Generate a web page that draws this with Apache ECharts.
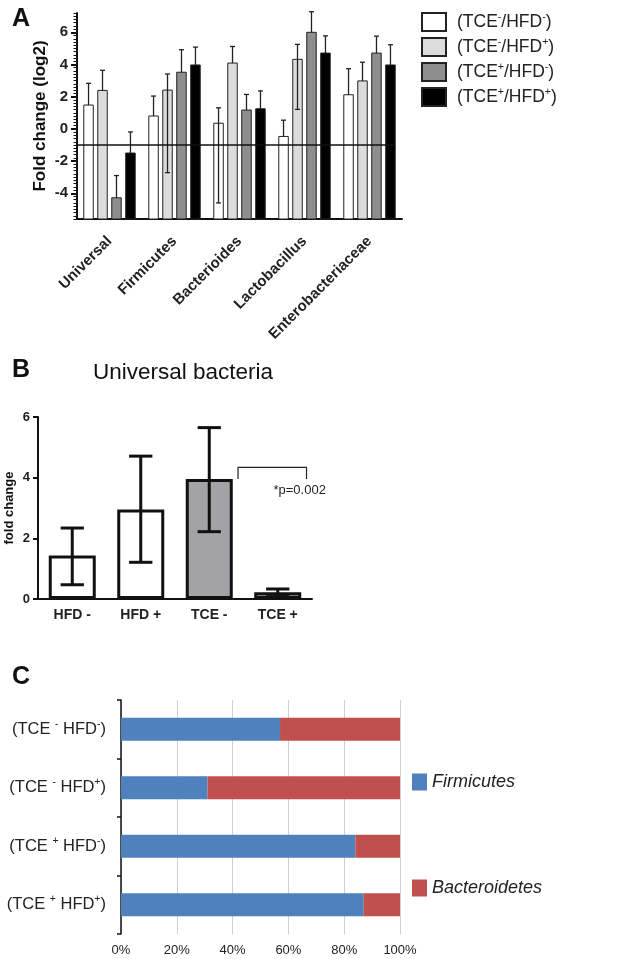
<!DOCTYPE html>
<html>
<head>
<meta charset="utf-8">
<script src="https://cdn.jsdelivr.net/npm/echarts@6/dist/echarts.min.js"></script>
<style>
  html, body { margin: 0; padding: 0; background: #fff; }
  #chart { width: 633px; height: 959px; }
</style>
</head>
<body>
<div id="chart"></div>
<script>
// ---- panel A : fold change (log2) per taxon ----
const taxa = ['Universal', 'Firmicutes', 'Bacterioides', 'Lactobacillus', 'Enterobacteriaceae'];
const groupNames = ['TCE-/HFD-', 'TCE-/HFD+', 'TCE+/HFD-', 'TCE+/HFD+'];
const groupFills = ['#ffffff', '#dcdcdc', '#8e8e8e', '#000000'];
const meanA = [
  [1.48, 0.80, 0.35, -0.47, 2.12],
  [2.39, 2.41, 4.09, 4.32, 2.98],
  [-4.28, 3.52, 1.17, 6.00, 4.71],
  [-1.50, 3.97, 1.25, 4.71, 3.97]
];
const upperA = [
  [2.83, 2.04, 1.31, 0.54, 3.74],
  [3.64, 3.41, 5.12, 5.25, 4.14],
  [-2.90, 4.92, 2.14, 7.28, 5.76],
  [-0.19, 5.08, 2.36, 5.78, 5.23]
];
// lower whiskers only where they show in the figure
const lowerA = [
  [null, null, -4.60, null, null],
  [null, -2.72, null, 1.21, null],
  [null, null, null, null, null],
  [null, null, null, null, null]
];
const refLineA = -1;
const yMinA = -5.6, yMaxA = 7.2;

// ---- panel B : universal bacteria ----
const groupsB = ['HFD -', 'HFD +', 'TCE -', 'TCE +'];
const meanB = [1.43, 2.95, 3.96, 0.22];
const upperB = [2.34, 4.71, 5.65, 0.33];
const lowerB = [0.47, 1.21, 2.22, 0.08];
const fillB = ['#ffffff', '#ffffff', '#a3a3a6', '#a3a3a6'];
const pText = '*p=0.002';

// ---- panel C : Firmicutes / Bacteroidetes ----
const groupsC = [['-', '-'], ['-', '+'], ['+', '-'], ['+', '+']];
const firmicutes = [57, 31, 84, 87];
const bacteroidetes = [43, 69, 16, 13];

const FONT = 'Liberation Sans, Arial, Helvetica, sans-serif';

const supRich = {
  base: { fontSize: 17.5, fontFamily: FONT, color: '#222', lineHeight: 20 },
  sup: { fontSize: 10.5, fontFamily: FONT, color: '#222', verticalAlign: 'top', lineHeight: 20 }
};
function legendLabel(name) {
  const m = name.match(/TCE(.)\/HFD(.)/);
  return '{base|(TCE}{sup|' + m[1] + '}{base|/HFD}{sup|' + m[2] + '}{base|)}';
}

function minorTicks() {
  const out = [];
  for (let k = 0; k <= 64; k++) out.push(+(yMinA + k * 0.2).toFixed(2));
  return out;
}

function barRender(si) {
  return function (params, api) {
    const ci = api.value(0);
    const band = api.size([1, 0])[0];
    const bw = band * 0.146;
    const pitch = band * 0.215;
    const p = api.coord([ci, api.value(1)]);
    const cx = p[0] + (si - 1.5) * pitch;
    const top = p[1];
    const bottom = api.coord([ci, yMinA])[1];
    const hi = api.coord([ci, api.value(2)])[1];
    const lowV = api.value(3);
    const hasLow = lowV != null && !isNaN(lowV);
    const lo = hasLow ? api.coord([ci, lowV])[1] : top;
    const ws = { stroke: '#222', lineWidth: 1.3 };
    const children = [
      { type: 'rect', shape: { x: cx - bw / 2, y: top, width: bw, height: bottom - top },
        style: { fill: groupFills[si], stroke: '#222', lineWidth: 1 } },
      { type: 'line', shape: { x1: cx, y1: lo, x2: cx, y2: hi }, style: ws },
      { type: 'line', shape: { x1: cx - 2.5, y1: hi, x2: cx + 2.5, y2: hi }, style: ws }
    ];
    if (hasLow) {
      children.push({ type: 'line', shape: { x1: cx - 2.5, y1: lo, x2: cx + 2.5, y2: lo }, style: ws });
    }
    return { type: 'group', children: children };
  };
}

const seriesA = groupNames.map(function (g, si) {
  return {
    name: g,
    type: 'custom',
    xAxisIndex: 0,
    yAxisIndex: 0,
    itemStyle: { color: groupFills[si], borderColor: '#222', borderWidth: 1 },
    renderItem: barRender(si),
    encode: { x: 0, y: 1 },
    data: taxa.map(function (t, i) { return [i, meanA[si][i], upperA[si][i], lowerA[si][i]]; }),
    z: 3
  };
});

const refSeries = {
  type: 'custom',
  xAxisIndex: 0,
  yAxisIndex: 0,
  silent: true,
  z: 4,
  data: [[0, refLineA]],
  renderItem: function (params, api) {
    const p = api.coord([0, api.value(1)]);
    const cs = params.coordSys;
    return { type: 'line', shape: { x1: cs.x, y1: p[1], x2: cs.x + cs.width - 8, y2: p[1] },
      style: { stroke: '#111', lineWidth: 1.6 } };
  }
};

const errB = {
  type: 'custom',
  xAxisIndex: 1,
  yAxisIndex: 2,
  z: 5,
  data: groupsB.map(function (g, i) { return [i, meanB[i], upperB[i], lowerB[i]]; }),
  renderItem: function (params, api) {
    const ci = api.value(0);
    const hi = api.coord([ci, api.value(2)]);
    const lo = api.coord([ci, api.value(3)]);
    const cw = api.size([1, 0])[0] * 0.17;
    const st = { stroke: '#111', lineWidth: 3 };
    return { type: 'group', children: [
      { type: 'line', shape: { x1: hi[0], y1: lo[1], x2: hi[0], y2: hi[1] }, style: st },
      { type: 'line', shape: { x1: hi[0] - cw, y1: hi[1], x2: hi[0] + cw, y2: hi[1] }, style: st },
      { type: 'line', shape: { x1: lo[0] - cw, y1: lo[1], x2: lo[0] + cw, y2: lo[1] }, style: st }
    ] };
  }
};

const bracketB = {
  type: 'custom',
  xAxisIndex: 1,
  yAxisIndex: 2,
  z: 5,
  silent: true,
  data: [[2, 3, 4.34, 3.96, 3.57]],
  renderItem: function (params, api) {
    const band = api.size([1, 0])[0];
    const a = api.coord([api.value(0), api.value(2)]);
    const b = api.coord([api.value(1), api.value(2)]);
    const legY = api.coord([api.value(0), api.value(3)])[1];
    const ty = api.coord([api.value(1), api.value(4)])[1];
    const x1 = a[0] + band * 0.42, x2 = b[0] + band * 0.42;
    return { type: 'group', children: [
      { type: 'polyline', shape: { points: [[x1, legY], [x1, a[1]], [x2, a[1]], [x2, legY]] },
        style: { stroke: '#222', lineWidth: 1.2, fill: null } },
      { type: 'text', x: b[0] + band * 0.32, y: ty,
        style: { text: pText, fontSize: 13, fontFamily: FONT, fill: '#222', align: 'center', verticalAlign: 'middle' } }
    ] };
  }
};

const chart = echarts.init(document.getElementById('chart'));
chart.setOption({
  backgroundColor: '#fff',
  animation: false,
  textStyle: { fontFamily: FONT },
  title: [
    { text: 'A', left: 7, top: 2, textStyle: { fontSize: 25, fontWeight: 'bold', color: '#111' } },
    { text: 'B', left: 7, top: 353, textStyle: { fontSize: 25, fontWeight: 'bold', color: '#111' } },
    { text: 'Universal bacteria', left: 88, top: 356, textStyle: { fontSize: 22.5, fontWeight: 'normal', color: '#111' } },
    { text: 'C', left: 7, top: 660, textStyle: { fontSize: 25, fontWeight: 'bold', color: '#111' } }
  ],
  legend: [
    {
      data: groupNames,
      orient: 'vertical',
      left: 416,
      top: 7,
      itemWidth: 24,
      itemHeight: 18,
      itemGap: 5,
      icon: 'rect',
      selectedMode: false,
      formatter: legendLabel,
      textStyle: { rich: supRich, padding: [0, 0, 0, 6] }
    },
    {
      data: ['Firmicutes', 'Bacteroidetes'],
      orient: 'vertical',
      left: 407,
      top: 768,
      itemWidth: 15,
      itemHeight: 17,
      itemGap: 88,
      icon: 'rect',
      selectedMode: false,
      textStyle: { fontSize: 18, fontStyle: 'italic', color: '#222', fontFamily: FONT }
    }
  ],
  grid: [
    { left: 77, top: 13, width: 325, height: 206, outerBoundsMode: 'none' },
    { left: 38, top: 417, width: 274, height: 182, outerBoundsMode: 'none' },
    { left: 121, top: 700, width: 279, height: 234, outerBoundsMode: 'none' }
  ],
  xAxis: [
    {
      gridIndex: 0, type: 'category', data: taxa,
      axisLine: { onZero: false, lineStyle: { color: '#111', width: 2 } },
      axisTick: { alignWithLabel: true, length: 6, lineStyle: { color: '#111', width: 2 } },
      axisLabel: { rotate: 45, interval: 0, margin: 20, fontSize: 15, fontWeight: 'bold', color: '#222' }
    },
    {
      gridIndex: 1, type: 'category', data: groupsB,
      axisLine: { onZero: false, lineStyle: { color: '#111', width: 2 } },
      axisTick: { alignWithLabel: true, length: 6, lineStyle: { color: '#111', width: 2 } },
      axisLabel: { margin: 9, fontSize: 14, fontWeight: 'bold', color: '#222' }
    },
    {
      gridIndex: 2, type: 'value', min: 0, max: 100, interval: 20,
      axisLine: { show: false },
      axisTick: { show: false },
      splitLine: { show: true, lineStyle: { color: '#cfcfcf', width: 1 } },
      axisLabel: { formatter: '{value}%', margin: 10, fontSize: 13, color: '#222' }
    }
  ],
  yAxis: [
    {
      gridIndex: 0, type: 'value', min: yMinA, max: yMaxA,
      name: 'Fold change (log2)', nameLocation: 'middle', nameGap: 28, nameRotate: 90,
      nameMoveOverlap: false,
      nameTextStyle: { fontSize: 17, fontWeight: 'bold', color: '#111' },
      axisLine: { show: true, lineStyle: { color: '#111', width: 2 } },
      axisTick: { show: true, length: 6, customValues: [-4, -2, 0, 2, 4, 6], lineStyle: { color: '#111', width: 2 } },
      axisLabel: { customValues: [-4, -2, 0, 2, 4, 6], margin: 9, fontSize: 15, fontWeight: 'bold', color: '#222' },
      splitLine: { show: false }
    },
    {
      gridIndex: 0, type: 'value', min: yMinA, max: yMaxA, position: 'left',
      axisLine: { show: false },
      axisTick: { show: true, length: 3.5, customValues: minorTicks(), lineStyle: { color: '#111', width: 1 } },
      axisLabel: { show: false },
      splitLine: { show: false }
    },
    {
      gridIndex: 1, type: 'value', min: 0, max: 6, interval: 2,
      name: 'fold change', nameLocation: 'middle', nameGap: 22, nameRotate: 90,
      nameTextStyle: { fontSize: 13, fontWeight: 'bold', color: '#111' },
      axisLine: { show: true, lineStyle: { color: '#111', width: 2 } },
      axisTick: { show: true, length: 5, lineStyle: { color: '#111', width: 2 } },
      axisLabel: { margin: 8, fontSize: 13, fontWeight: 'bold', color: '#222' },
      splitLine: { show: false }
    },
    {
      gridIndex: 2, type: 'category', data: groupsC.map(function (g) { return g.join(''); }), inverse: true,
      axisLine: { show: true, lineStyle: { color: '#111', width: 1.5 } },
      axisTick: { show: true, length: 4, lineStyle: { color: '#111', width: 1.5 } },
      axisLabel: {
        margin: 15,
        formatter: function (v, i) {
          const g = groupsC[i];
          return '{b|(TCE }{s|' + g[0] + '}{b| HFD}{s|' + g[1] + '}{b|)}';
        },
        rich: {
          b: { fontSize: 16.5, color: '#222', fontFamily: FONT, lineHeight: 22 },
          s: { fontSize: 10.5, color: '#222', fontFamily: FONT, verticalAlign: 'top', lineHeight: 22 }
        }
      },
      splitLine: { show: false }
    }
  ],
  series: seriesA.concat([
    refSeries,
    {
      type: 'bar', xAxisIndex: 1, yAxisIndex: 2, barWidth: 47, z: 3,
      data: meanB.map(function (v, i) {
        return { value: v, itemStyle: { color: fillB[i], borderColor: '#111', borderWidth: 3 } };
      })
    },
    errB,
    bracketB,
    {
      name: 'Firmicutes', type: 'bar', stack: 'c', xAxisIndex: 2, yAxisIndex: 3,
      barWidth: 23, itemStyle: { color: '#4f81bd' }, data: firmicutes
    },
    {
      name: 'Bacteroidetes', type: 'bar', stack: 'c', xAxisIndex: 2, yAxisIndex: 3,
      barWidth: 23, itemStyle: { color: '#c0504d' }, data: bacteroidetes
    }
  ])
});
</script>
</body>
</html>
